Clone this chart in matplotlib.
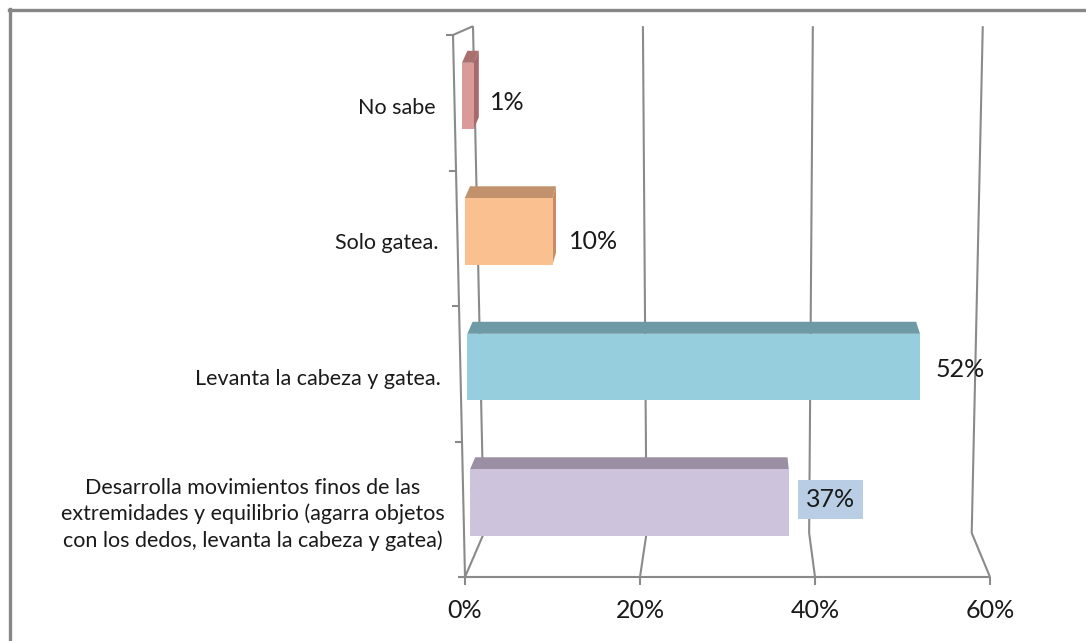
import matplotlib
matplotlib.use("Agg")
import matplotlib.pyplot as plt
from matplotlib.patches import Polygon, Rectangle
from matplotlib.lines import Line2D

plt.rcParams['font.family'] = ['Lato', 'DejaVu Sans']

# Data
categories = [
    "Desarrolla movimientos finos de las\nextremidades y equilibrio (agarra objetos\ncon los dedos, levanta la cabeza y gatea)",
    "Levanta la cabeza y gatea.",
    "Solo gatea.",
    "No sabe",
]
values = [37, 52, 10, 1]
value_labels = ["37%", "52%", "10%", "1%"]
tick_values = [0, 20, 40, 60]
tick_labels = ["0%", "20%", "40%", "60%"]

front_colors = ["#CEC3DC", "#96CEDD", "#FBC08F", "#DA9A99"]
top_colors = ["#9A8FA3", "#6D9AA5", "#C2926C", "#A9706F"]
side_colors = ["#A99DB3", "#7AA9B5", "#C88E63", "#A8696A"]
label_dy = [3, -3, -10, -7]   # pixel nudges of the value labels

GRID = "#8A8A8A"
TEXT = "#1A1A1A"

W, H, DPI = 1086, 641, 100
fig = plt.figure(figsize=(W / DPI, H / DPI), dpi=DPI)
fig.patch.set_facecolor("white")

# Chart frame (top and left edges visible)
fig.add_artist(Line2D([9 / W, 1.0], [1 - 9.5 / H, 1 - 9.5 / H], color="#878787", lw=2.4,
                      transform=fig.transFigure))
fig.add_artist(Line2D([9.5 / W, 9.5 / W], [0, 1 - 9 / H], color="#878787", lw=2.4,
                      transform=fig.transFigure))

ax = fig.add_axes([465 / W, (H - 577) / H, 525 / W, 542 / H])
ax.set_xlim(0, 60)
ax.set_ylim(0, 4)
ax.axis("off")

# 3D box geometry in data units
BACK_TOP_Y = 4.065
BACK_BOT_Y = 0.325
FRONT_TOP_LEFT_X = -1.37
px_x = 60 / 525.0   # data units per pixel, x
px_y = 4 / 542.0    # data units per pixel, y


def back_top_x(v):
    return 0.914 + 0.971 * v


def back_bot_x(v):
    return 2.17 + 0.929 * v


def front_left_x(y):
    return FRONT_TOP_LEFT_X * (y / 4.0)


line_kw = dict(color=GRID, lw=1.5, clip_on=False, zorder=1, solid_capstyle="butt")

# Back-wall gridlines with floor segments
for v in tick_values:
    ax.plot([back_top_x(v), back_bot_x(v), v], [BACK_TOP_Y, BACK_BOT_Y, 0], **line_kw)

# Left wall front edge and top edge
ax.plot([FRONT_TOP_LEFT_X, 0], [4.0, 0], **line_kw)
ax.plot([FRONT_TOP_LEFT_X, back_top_x(0)], [4.0, BACK_TOP_Y], **line_kw)
# Floor front edge
ax.plot([0, 60], [0, 0], **line_kw)

# Category boundary ticks on left edge
for yb in range(5):
    x0 = front_left_x(yb)
    ax.plot([x0 - 7 * px_x, x0], [yb, yb], **line_kw)

# Value ticks on floor
for v, t in zip(tick_values, tick_labels):
    ax.plot([v, v], [0, -8 * px_y], **line_kw)
    ax.text(v, -34 * px_y, t, ha="center", va="center", fontsize=18,
            color=TEXT, clip_on=False)

# Bars with top and side faces
BAR_H = 0.49
DEPTH_DY = 12 * px_y


def shift(x):
    return 0.6 - 0.02 * x


for i, (val, lab) in enumerate(zip(values, value_labels)):
    yc = i + 0.55
    y0, y1 = yc - BAR_H / 2, yc + BAR_H / 2
    xl = 0.745 - 0.306 * yc
    xr = val

    top = Polygon([(xl, y1), (xr, y1), (xr + shift(xr), y1 + DEPTH_DY),
                   (xl + shift(xl), y1 + DEPTH_DY)], closed=True,
                  facecolor=top_colors[i], edgecolor="none", zorder=3, clip_on=False)
    ax.add_patch(top)
    if shift(xr) > 0:
        side = Polygon([(xr, y0), (xr, y1), (xr + shift(xr), y1 + DEPTH_DY),
                        (xr + shift(xr), y0 + DEPTH_DY)], closed=True,
                       facecolor=side_colors[i], edgecolor="none", zorder=3, clip_on=False)
        ax.add_patch(side)
    front = Rectangle((xl, y0), xr - xl, BAR_H, facecolor=front_colors[i],
                      edgecolor="none", zorder=4, clip_on=False)
    ax.add_patch(front)

    # value label
    if i == 0:
        ax.annotate(lab, (xr, yc), xytext=(17, label_dy[i]), textcoords="offset pixels",
                    ha="left", va="center", fontsize=18, color=TEXT,
                    bbox=dict(boxstyle="square,pad=0.33", facecolor="#B9CDE5",
                              edgecolor="none"), zorder=5)
    else:
        ax.annotate(lab, (xr, yc), xytext=(16, label_dy[i]), textcoords="offset pixels",
                    ha="left", va="center", fontsize=18, color=TEXT, zorder=5)

    # category label
    ax.annotate(categories[i], (front_left_x(yc), yc), xytext=(-19, -12),
                textcoords="offset pixels", ha="right", va="center",
                multialignment="center", fontsize=15.5, color=TEXT,
                linespacing=1.37, annotation_clip=False)

fig.savefig("out.png", dpi=DPI, facecolor="white")
